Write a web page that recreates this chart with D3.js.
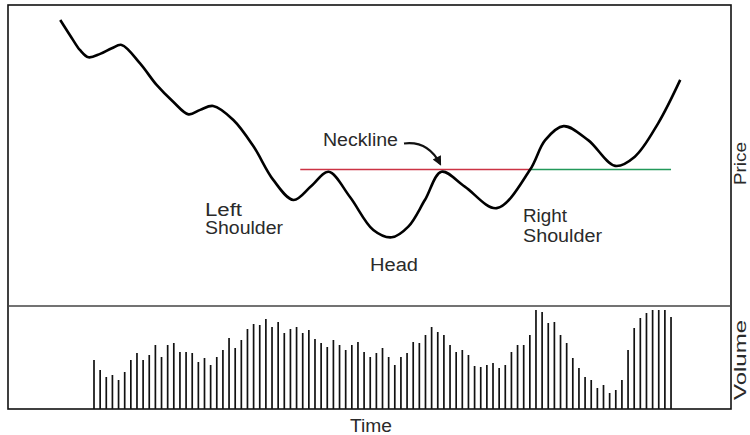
<!DOCTYPE html>
<html><head><meta charset="utf-8">
<script src="https://cdn.jsdelivr.net/npm/d3@7"></script>
<style>html,body{margin:0;padding:0;background:#fff;} svg{display:block;}</style>
</head><body>
<svg id="c" width="750" height="435"></svg>
<script>
// ---- data ----
const priceDays   = [0.5,2.4,3.7,5.1,7.0,8.9,10.5,13.5,16.2,18.9,21.4,23.3,25.4,28.7,32.0,35.2,38.5,41.4,44.2,47.7,51.5,54.5,57.2,59.9,62.6,66.4,71.6,77.0,79.5,82.5,86.5,90.9,94.1,97.9,101.5];
const priceValues = [100,93.5,89.3,86.7,87.9,89.9,91.1,84.5,76.8,70.8,66.3,67.9,69.3,64.3,54.8,42.9,35.7,40.7,45.8,36.8,25.0,22.4,26.2,35.7,45.8,40.5,32.8,46.4,57.1,62.1,57.1,47.9,51.2,63.1,78.6];
const volumeValues = [49,39,32,34,29,37,49,56,49,54,64,52,64,66,57,57,56,47,51,44,52,59,71,61,69,80,85,84,90,82,87,76,80,82,76,79,70,66,62,69,64,59,64,67,57,52,56,61,52,44,52,56,67,66,74,82,77,74,64,57,59,54,43,42,44,46,41,44,57,64,64,74,99,97,86,87,74,66,51,41,32,29,21,24,16,19,29,59,81,91,96,99,99,99,92];
const volumeStartDay = 6;
const necklineValue = 46.6;
const necklineStart = 39.6, necklineBreak = 76.9, necklineEnd = 100;
const labels = {neck:"Neckline", left:["Left","Shoulder"], head:"Head", right:["Right","Shoulder"], time:"Time", price:"Price", volume:"Volume"};

// ---- scales ----
const svg = d3.select("#c");
const x = d3.scaleLinear().domain([0,102]).range([57.17,683.3]);
const yP = d3.scaleLinear().domain([0,100]).range([300,20]);
const yV = d3.scaleLinear().domain([0,104]).range([409,305]);
const frame = {l:8, t:5, r:731, b:409, div:306};
const font = "'Liberation Sans', Arial, Helvetica, sans-serif";

// frame
svg.append("rect").attr("x",frame.l).attr("y",frame.t).attr("width",frame.r-frame.l).attr("height",frame.b-frame.t)
  .attr("fill","none").attr("stroke","#111").attr("stroke-width",1.6);
svg.append("line").attr("x1",frame.l).attr("x2",frame.r).attr("y1",frame.div).attr("y2",frame.div)
  .attr("stroke","#444").attr("stroke-width",1.6);

// volume bars
svg.append("g").selectAll("line").data(volumeValues).join("line")
  .attr("x1",(d,i)=>x(volumeStartDay+i)).attr("x2",(d,i)=>x(volumeStartDay+i))
  .attr("y1",yV(0)).attr("y2",d=>yV(d))
  .attr("stroke","#111").attr("stroke-width",1.7);

// neckline
svg.append("line").attr("x1",x(necklineStart)).attr("x2",x(necklineBreak))
  .attr("y1",yP(necklineValue)).attr("y2",yP(necklineValue))
  .attr("stroke","#cc3344").attr("stroke-width",1.6);
svg.append("line").attr("x1",x(necklineBreak)).attr("x2",x(necklineEnd))
  .attr("y1",yP(necklineValue)).attr("y2",yP(necklineValue))
  .attr("stroke","#22995a").attr("stroke-width",1.6);

// price line
const pts = priceDays.map((d,i)=>[d,priceValues[i]]);
svg.append("path").datum(pts)
  .attr("d", d3.line().x(d=>x(d[0])).y(d=>yP(d[1])).curve(d3.curveCatmullRom.alpha(0.5)))
  .attr("fill","none").attr("stroke","#000").attr("stroke-width",2.6).attr("stroke-linejoin","round");

// text
function txt(s, tx, ty, len){
  const t = svg.append("text").attr("x",tx).attr("y",ty).text(s)
    .attr("font-family",font).attr("font-size",18).attr("fill","#2a2a2a");
  if(len) t.attr("textLength",len).attr("lengthAdjust","spacingAndGlyphs");
  return t;
}
txt(labels.neck, 323, 145.5, 75);
txt(labels.left[0], 205, 215.5, 37);
txt(labels.left[1], 205, 234, 78);
txt(labels.head, 370, 271, 48);
txt(labels.right[0], 523, 222, 44);
txt(labels.right[1], 523, 241.5, 79);
txt(labels.time, 350, 431.5, 42);
svg.append("text").attr("transform","translate(746,163.5) rotate(-90)").attr("text-anchor","middle")
  .attr("font-family",font).attr("font-size",17).attr("fill","#2a2a2a").text(labels.price)
  .attr("textLength",43).attr("lengthAdjust","spacingAndGlyphs");
svg.append("text").attr("transform","translate(746,360) rotate(-90)").attr("text-anchor","middle")
  .attr("font-family",font).attr("font-size",17).attr("fill","#2a2a2a").text(labels.volume)
  .attr("textLength",80).attr("lengthAdjust","spacingAndGlyphs");

// arrow
const defs = svg.append("defs");
defs.append("marker").attr("id","ah").attr("viewBox","0 0 10 10").attr("refX",8).attr("refY",5)
  .attr("markerWidth",5.5).attr("markerHeight",4.2).attr("orient","auto").attr("markerUnits","strokeWidth")
  .append("path").attr("d","M0,0 L10,5 L0,10 z").attr("fill","#111");
const ax1 = 404, ay1 = 143.5;
const ax2 = x(62.4), ay2 = yP(necklineValue) - 5.5;
svg.append("path").attr("d",`M${ax1},${ay1} Q${ax1+24},${ay1-3} ${ax2},${ay2}`)
  .attr("fill","none").attr("stroke","#111").attr("stroke-width",2.2).attr("marker-end","url(#ah)");
</script>
</body></html>
